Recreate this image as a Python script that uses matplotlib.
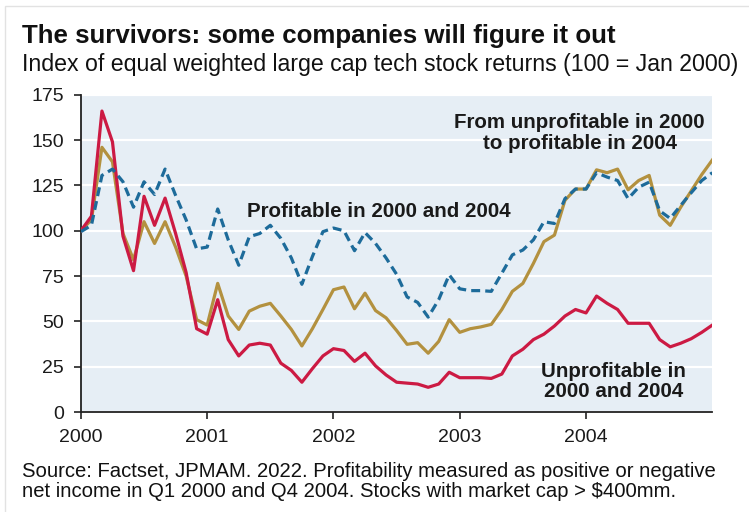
import numpy as np
import matplotlib
matplotlib.use('Agg')
import matplotlib.pyplot as plt
from matplotlib.patches import Rectangle

# monthly index values, Jan 2000 .. Jan 2005 (100 = Jan 2000)
unprofitable = [100, 108, 166, 149, 97, 78, 119, 103, 118, 98.5, 77, 46,
                43, 62, 40, 31, 37, 38, 37, 27, 23, 16.5, 24, 31,
                35, 34, 28, 32.5, 25.5, 20.5, 16.5, 16, 15.5, 13.7, 15.5, 22,
                19, 19, 19, 18.6, 21, 31, 34.7, 40, 43, 47.5, 53, 56.6,
                54.7, 64, 60, 56.6, 49, 49, 49, 40, 36, 38, 40.5, 44, 48]
turned_profitable = [100, 106, 146, 138, 98.5, 84, 105, 93, 105, 91, 75, 51,
                     48, 71, 53, 45.6, 55.7, 58.4, 60, 53, 45.6, 36.5, 46, 56.6,
                     67.5, 69, 57, 65.6, 56, 52, 45, 37.4, 38.3, 32.5, 39, 51,
                     44, 46, 47, 48.4, 56.6, 66.6, 71, 82, 94, 97.6, 116.8, 123,
                     123, 133.6, 132, 134, 122.6, 127.7, 130.5, 108.6, 103, 113, 122, 131, 139]
profitable = [99.5, 103, 130.5, 134, 127, 113, 127, 120, 134, 119.5, 106, 90,
              91, 112, 95, 81, 96.7, 98.5, 103, 95.8, 85, 70.5, 85.8, 99.5,
              101.5, 100, 89, 99, 93, 85, 76, 63.5, 60.5, 52.4, 62, 75.7,
              68, 67, 67, 66.6, 76.6, 86.7, 89.4, 95, 105, 104, 117.7, 123,
              123, 132, 129.6, 127.7, 117.7, 124, 126.8, 111, 106.8, 114, 121, 127.7, 132]
months = 2000 + np.arange(len(unprofitable)) / 12.0
year_ticks = [2000, 2001, 2002, 2003, 2004]
y_ticks = [0, 25, 50, 75, 100, 125, 150, 175]

font = 'Liberation Sans'

fig = plt.figure(figsize=(7.49, 5.12), dpi=100)
# faint frame of the original slide
fig.patches.append(Rectangle((0.007, -0.05), 1.05, 1.05 - 6 / 512, transform=fig.transFigure,
                             fill=False, edgecolor='#e2e2e2', lw=1.0))

ax = fig.add_axes([0.108, 0.195, 0.843, 0.62])
ax.set_facecolor('#e6eef5')

ax.plot(months, turned_profitable, color='#b3913f', lw=2.3, zorder=3)
ax.plot(months, unprofitable, color='#cc1a43', lw=2.3, zorder=4)
ax.plot(months, profitable, color='#1d6b9a', lw=2.3, ls=(0, (2.8, 1.6)), zorder=5)

ax.set_xlim(2000, 2005)
ax.set_ylim(0, 175)
ax.set_yticks(y_ticks)
ax.set_xticks(year_ticks)
ax.set_xticklabels([str(y) for y in year_ticks])
ax.grid(axis='y', color='white', lw=1.6, zorder=1)
ax.set_axisbelow(True)
for s in ['top', 'right']:
    ax.spines[s].set_visible(False)
for s in ['left', 'bottom']:
    ax.spines[s].set_color('#222222')
    ax.spines[s].set_linewidth(1.3)
ax.tick_params(axis='both', length=5, width=1.2, color='#222222', labelsize=14)
ax.tick_params(axis='y', pad=7)
ax.tick_params(axis='x', pad=7)
for lab in ax.get_xticklabels() + ax.get_yticklabels():
    lab.set_family(font)
    lab.set_color('#1a1a1a')

ax.text(2002.36, 110.5, 'Profitable in 2000 and 2004', fontsize=14.8, fontweight='bold',
        family=font, ha='center', va='center', color='#1a1a1a')
ax.text(2003.95, 154, 'From unprofitable in 2000\nto profitable in 2004', fontsize=14.8,
        fontweight='bold', family=font, ha='center', va='center', color='#1a1a1a',
        linespacing=1.1)
ax.text(2004.22, 17, 'Unprofitable in\n2000 and 2004', fontsize=14.8, fontweight='bold',
        family=font, ha='center', va='center', color='#1a1a1a', linespacing=1.1)

fig.text(0.029, 0.93, 'The survivors: some companies will figure it out', fontsize=18.6,
         fontweight='bold', family=font, ha='left', va='center', color='#111111')
fig.text(0.029, 0.874, 'Index of equal weighted large cap tech stock returns (100 = Jan 2000)',
         fontsize=16.7, family=font, ha='left', va='center', color='#111111')
fig.text(0.029, 0.06, 'Source: Factset, JPMAM. 2022. Profitability measured as positive or negative\n'
         'net income in Q1 2000 and Q4 2004. Stocks with market cap > $400mm.',
         fontsize=14.6, family=font, ha='left', va='center', color='#111111', linespacing=1.05)

fig.savefig('out.png', dpi=100)
